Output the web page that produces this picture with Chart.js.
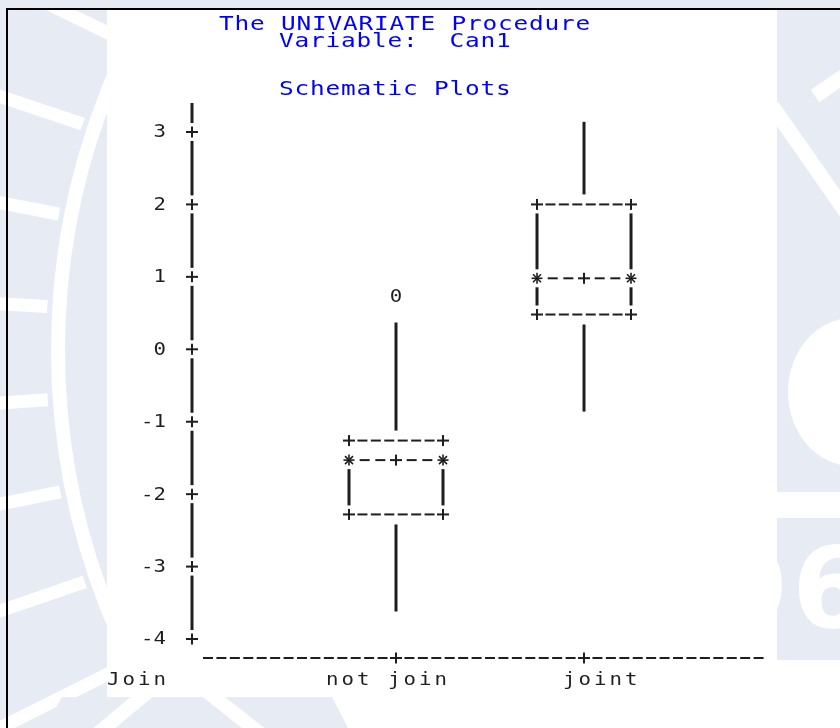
<!DOCTYPE html>
<html>
<head>
<meta charset="utf-8">
<title>Schematic Plots</title>
<script src="https://cdn.jsdelivr.net/npm/chart.js@4.4.1/dist/chart.umd.min.js"></script>
<style>
  html, body { margin: 0; padding: 0; background: #fff; }
  #wrap { width: 840px; height: 728px; position: relative; }
</style>
</head>
<body>
<div id="wrap"><canvas id="boxChart"></canvas></div>
<script>
// ---- data ----
const groups = ['not join', 'joint'];
const groupPos = [1, 2];
const whiskerHigh = [0.37, 3.14];
const q3 = [-1.26, 2.00];
const median = [-1.53, 0.98];
const mean = [-1.53, 0.98];
const q1 = [-2.28, 0.48];
const whiskerLow = [-3.62, -0.86];
const outlierGroup = [0];
const outlierValue = [0.73];
const yTicks = [3, 2, 1, 0, -1, -2, -3, -4];
const titleLines = ['The UNIVARIATE Procedure', 'Variable:  Can1', 'Schematic Plots'];
const groupVarName = 'Join';

// ---- look ----
const INK = '#1e1e1e';
const BLUE = '#0000ff';
const WM = '#e7ebf4';
const MONO = '"DejaVu Sans Mono", "Liberation Mono", monospace';

function line(ctx, x1, y1, x2, y2) {
    ctx.beginPath();
    ctx.moveTo(x1, y1);
    ctx.lineTo(x2, y2);
    ctx.stroke();
}

// SAS output font is wider than DejaVu Sans Mono: stretch it sideways
function sasText(ctx, str, x, y, size, align, pitch) {
    const sx = 1.22;
    ctx.save();
    ctx.font = size + 'px ' + MONO;
    const adv = ctx.measureText('M').width * sx;
    ctx.letterSpacing = (pitch ? (pitch - adv) / sx : 0) + 'px';
    ctx.textAlign = align;
    ctx.translate(x, y);
    ctx.scale(sx, 1);
    ctx.fillText(str, 0, 0);
    ctx.restore();
}

function plus(ctx, x, y) {
    ctx.lineWidth = 2;
    line(ctx, x - 6, y, x + 6, y);
    line(ctx, x, y - 5.5, x, y + 5.5);
}

function star(ctx, x, y) {
    ctx.lineWidth = 1.6;
    line(ctx, x - 5.5, y, x + 5.5, y);
    line(ctx, x, y - 5.5, x, y + 5.5);
    line(ctx, x - 4, y - 4, x + 4, y + 4);
    line(ctx, x - 4, y + 4, x + 4, y - 4);
}

// evenly spread "-" characters between two marks on one text row
function dashes(ctx, xa, xb, y, cw) {
    const n = Math.round(Math.abs(xb - xa) / cw - 0.25) - 1;
    ctx.lineWidth = 2;
    for (let k = 1; k <= n; k++) {
        const c = xa + (xb - xa) * k / (n + 1);
        line(ctx, c - 5, y, c + 5, y);
    }
}

function vbar(ctx, x, ya, yb) {
    if (yb - ya < 5) return;
    ctx.lineWidth = 3;
    line(ctx, x, ya, x, yb);
}

function watermark(ctx, w, h) {
    ctx.save();
    ctx.fillStyle = WM;
    ctx.fillRect(0, 0, w, 9);

    // left part of the logo: ring and rays
    ctx.save();
    ctx.beginPath();
    ctx.rect(0, 9, 107, h - 9);
    ctx.clip();
    ctx.fillRect(0, 9, 107, h);
    ctx.strokeStyle = '#fff';
    ctx.lineWidth = 14;
    ctx.beginPath();
    ctx.arc(758, 350, 700, 0, Math.PI * 2);
    ctx.stroke();
    ctx.lineWidth = 13;
    for (let a = 146; a <= 214; a += 7.5) {
        const r = a * Math.PI / 180;
        line(ctx, 758 + 712 * Math.cos(r), 350 + 712 * Math.sin(r),
            758 + 1000 * Math.cos(r), 350 + 1000 * Math.sin(r));
    }
    ctx.restore();

    // right part
    ctx.save();
    ctx.beginPath();
    ctx.rect(777, 9, 63, 483);
    ctx.rect(777, 518, 63, 142);
    ctx.clip();
    ctx.fillRect(777, 9, 63, 660);
    ctx.fillStyle = '#fff';
    ctx.strokeStyle = '#fff';
    ctx.lineWidth = 15;
    line(ctx, 772, 106, 860, 232);
    line(ctx, 815, 96, 850, 72);
    ctx.beginPath();
    ctx.ellipse(852, 392, 64, 74, 0, 0, Math.PI * 2);
    ctx.fill();
    ctx.font = 'bold 112px "DejaVu Sans"';
    ctx.textBaseline = 'alphabetic';
    ctx.fillText('6', 792, 627);
    ctx.textAlign = 'right';
    ctx.fillText('9', 789, 627);
    ctx.restore();

    // bottom part
    ctx.beginPath();
    ctx.moveTo(62, 697);
    ctx.lineTo(332, 697);
    ctx.lineTo(348, 728);
    ctx.lineTo(44, 728);
    ctx.closePath();
    ctx.fill();
    ctx.strokeStyle = '#fff';
    ctx.lineWidth = 14;
    line(ctx, 96, 735, 150, 690);
    line(ctx, 205, 690, 262, 735);
    ctx.restore();

    // page frame
    ctx.fillStyle = '#000';
    ctx.fillRect(6, 8, w - 6, 2);
    ctx.fillRect(6, 8, 2, h - 8);
}

const sasPlot = {
    id: 'sasPlot',
    beforeDraw(chart) {
        const ctx = chart.ctx;
        ctx.save();
        ctx.fillStyle = '#fff';
        ctx.fillRect(0, 0, chart.width, chart.height);
        watermark(ctx, chart.width, chart.height);

        ctx.fillStyle = BLUE;
        ctx.textBaseline = 'alphabetic';
        const tx = [219, 279, 279];
        const ty = [30, 47, 95];
        titleLines.forEach((t, i) => sasText(ctx, t, tx[i], ty[i], 20, 'left', 15.5));
        ctx.restore();
    },
    afterDatasetsDraw(chart) {
        const ctx = chart.ctx;
        const xs = chart.scales.x;
        const ys = chart.scales.y;
        const area = chart.chartArea;
        const cw = (xs.getPixelForValue(groupPos[1]) - xs.getPixelForValue(groupPos[0])) / 14;
        const half = 3.5 * cw;
        const gap = 9;

        ctx.save();
        ctx.strokeStyle = INK;
        ctx.fillStyle = INK;
        ctx.lineCap = 'butt';

        // vertical axis with "+" at each tick and its labels
        const ax = area.left;
        const tickPx = ys.ticks.map(t => ys.getPixelForValue(t.value));
        vbar(ctx, ax, area.top + 1, tickPx[0] - gap);
        ctx.textBaseline = 'middle';
        ys.ticks.forEach((t, i) => {
            if (i > 0) vbar(ctx, ax, tickPx[i - 1] + gap, tickPx[i] - gap);
            plus(ctx, ax, tickPx[i]);
            sasText(ctx, String(t.value), ax - 26, tickPx[i] + 1, 17, 'right', 0);
        });

        // horizontal axis: row of "-" with "+" under each group
        const by = area.bottom;
        const x0 = xs.getPixelForValue(groupPos[0]);
        const groupPx = groupPos.map(p => xs.getPixelForValue(p));
        ctx.lineWidth = 2;
        for (let k = -40; k <= 60; k++) {
            const c = x0 + k * cw;
            if (c < area.left + 12 || c > area.right) continue;
            if (groupPx.some(g => Math.abs(g - c) < 1)) continue;
            line(ctx, c - 5, by, c + 5, by);
        }
        groupPx.forEach(g => plus(ctx, g, by));

        // boxes
        groups.forEach((g, i) => {
            const cx = groupPx[i];
            const yHi = ys.getPixelForValue(whiskerHigh[i]);
            const yQ3 = ys.getPixelForValue(q3[i]);
            const yMed = ys.getPixelForValue(median[i]);
            const yMean = ys.getPixelForValue(mean[i]);
            const yQ1 = ys.getPixelForValue(q1[i]);
            const yLo = ys.getPixelForValue(whiskerLow[i]);
            const l = cx - half;
            const r = cx + half;

            vbar(ctx, cx, yHi, yQ3 - gap - 1);
            vbar(ctx, cx, yQ1 + gap + 1, yLo);

            plus(ctx, l, yQ3); plus(ctx, r, yQ3);
            dashes(ctx, l, r, yQ3, cw);
            plus(ctx, l, yQ1); plus(ctx, r, yQ1);
            dashes(ctx, l, r, yQ1, cw);

            star(ctx, l, yMed); star(ctx, r, yMed);
            if (Math.abs(yMean - yMed) < 4) {
                plus(ctx, cx, yMed);
                dashes(ctx, l, cx, yMed, cw);
                dashes(ctx, cx, r, yMed, cw);
            } else {
                dashes(ctx, l, r, yMed, cw);
                plus(ctx, cx, yMean);
            }

            [l, r].forEach(sx => {
                vbar(ctx, sx, yQ3 + gap, yMed - gap);
                vbar(ctx, sx, yMed + gap, yQ1 - gap);
            });
        });

        // outliers
        ctx.textBaseline = 'middle';
        chart.getDatasetMeta(0).data.forEach(pt => sasText(ctx, '0', pt.x, pt.y + 1, 17, 'center', 0));

        // group labels
        ctx.textBaseline = 'alphabetic';
        const labelDx = [-70, -21];
        const ly = area.bottom + 27;
        groups.forEach((g, i) => sasText(ctx, g, groupPx[i] + labelDx[i], ly, 17, 'left', 15.5));
        sasText(ctx, groupVarName, area.left - 85, ly, 17, 'left', 15.5);
        ctx.restore();
    }
};

const ctx = document.getElementById('boxChart').getContext('2d');

new Chart(ctx, {
    type: 'scatter',
    data: {
        datasets: [{
            label: 'outliers',
            data: outlierValue.map((v, i) => ({ x: groupPos[outlierGroup[i]], y: v })),
            pointRadius: 0,
            pointHoverRadius: 0
        }]
    },
    options: {
        responsive: true,
        maintainAspectRatio: false,
        animation: false,
        events: [],
        layout: { padding: { top: 102, bottom: 70, left: 0, right: 80 } },
        plugins: {
            legend: { display: false },
            tooltip: { enabled: false }
        },
        scales: {
            x: { type: 'linear', min: -0.085, max: 2.936, display: false },
            y: {
                type: 'linear',
                min: -4.262,
                max: 3.414,
                grid: { display: false, drawTicks: false },
                border: { display: false },
                afterFit: s => { s.width = 192; },
                afterBuildTicks: s => { s.ticks = yTicks.map(v => ({ value: v })); },
                ticks: { display: false }
            }
        }
    },
    plugins: [sasPlot]
});
</script>
</body>
</html>
